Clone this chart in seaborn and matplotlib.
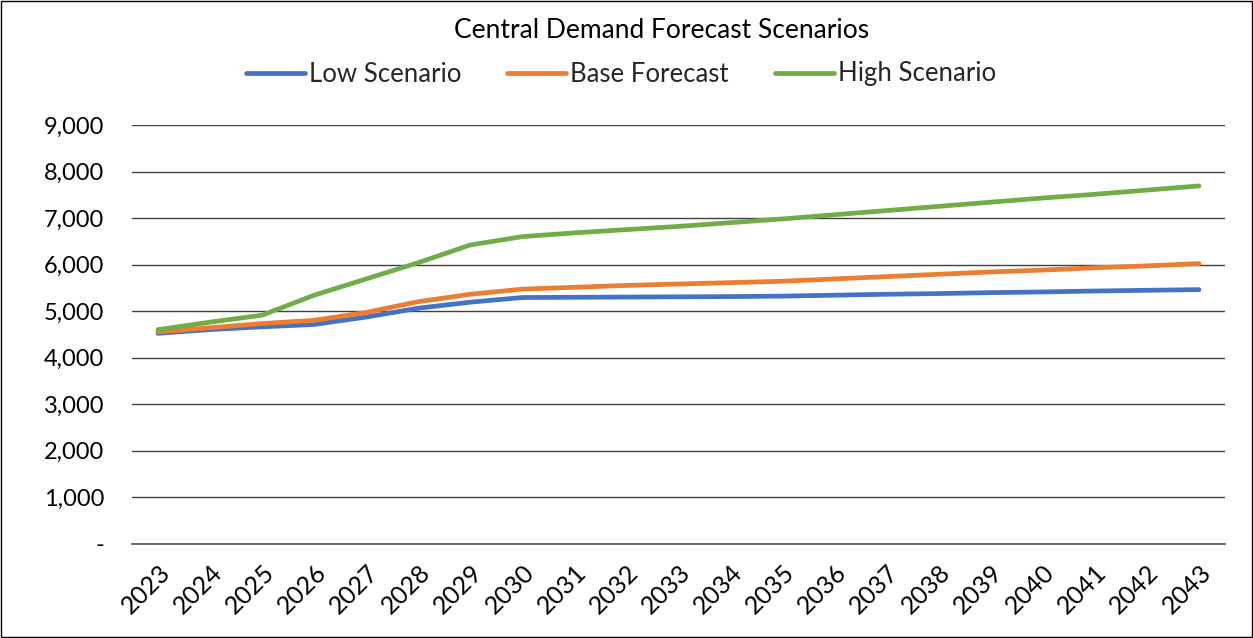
import matplotlib
matplotlib.use("Agg")
import matplotlib.pyplot as plt
import matplotlib.ticker as mticker
from matplotlib.patches import Rectangle
from matplotlib.lines import Line2D
import seaborn as sns
import pandas as pd

years = list(range(2023, 2044))
low = [4520, 4600, 4660, 4710, 4870, 5060, 5190, 5290, 5295, 5300, 5305, 5310, 5320,
       5340, 5360, 5375, 5395, 5410, 5430, 5445, 5460]
base = [4550, 4640, 4730, 4800, 4970, 5200, 5360, 5470, 5510, 5550, 5580, 5610, 5640,
        5690, 5740, 5790, 5840, 5880, 5930, 5970, 6020]
high = [4600, 4760, 4910, 5340, 5690, 6040, 6420, 6600, 6680, 6750, 6820, 6900, 6980,
        7070, 7160, 7250, 7340, 7430, 7510, 7600, 7690]
series_names = ["Low Scenario", "Base Forecast", "High Scenario"]
colors = ["#4472C4", "#ED7D31", "#70AD47"]
title = "Central Demand Forecast Scenarios"

df = pd.DataFrame({
    "Year": years * 3,
    "Value": low + base + high,
    "Scenario": [series_names[0]] * len(years) + [series_names[1]] * len(years) + [series_names[2]] * len(years),
})

sns.set_theme(style="white")
plt.rcParams["font.family"] = ["Lato", "DejaVu Sans"]

fig = plt.figure(figsize=(12.53, 6.38), dpi=100)
ax = fig.add_axes([132 / 1253, 1 - 543.5 / 638, (1225 - 132) / 1253, (543.5 - 125) / 638])

sns.lineplot(data=df, x="Year", y="Value", hue="Scenario", palette=colors,
             hue_order=series_names, linewidth=3.4, ax=ax, legend=False)
for ln in ax.get_lines():
    ln.set_solid_capstyle("round")

ax.set_xlim(2022.5, 2043.5)
ax.set_ylim(0, 9000)
ax.set_yticks(range(0, 9001, 1000))
ax.yaxis.set_major_formatter(mticker.FuncFormatter(lambda v, p: "-" if v == 0 else f"{int(v):,}"))
ax.set_xticks(years)
ax.set_xticklabels([str(y) for y in years], rotation=45, ha="right", rotation_mode="anchor")
ax.tick_params(axis="x", labelsize=18, pad=12, length=0, labelcolor="#000000")
ax.tick_params(axis="y", labelsize=17, pad=20, length=0, labelcolor="#000000")
ax.grid(axis="y", color="#404040", linewidth=1.0)
ax.grid(axis="x", visible=False)
for s in ["left", "right", "top"]:
    ax.spines[s].set_visible(False)
ax.spines["bottom"].set_color("#595959")
ax.set_xlabel("")
ax.set_ylabel("")
ax.set_axisbelow(True)

fig.text(662 / 1253, 1 - 30 / 638, title, ha="center", va="center", fontsize=19, color="#000000")

handles = [Line2D([0], [0], color=c, lw=3.4, solid_capstyle="round") for c in colors]
fig.legend(handles, series_names, loc="center", bbox_to_anchor=(621 / 1253, 1 - 74 / 638), ncol=3,
           frameon=False, fontsize=18.5, handlelength=2.3, handletextpad=0.15, columnspacing=1.8)

fig.add_artist(Rectangle((0.001, 0.001), 0.998, 0.997, transform=fig.transFigure,
                         fill=False, edgecolor="#000000", linewidth=1.0))

fig.savefig("out.png", dpi=100)
